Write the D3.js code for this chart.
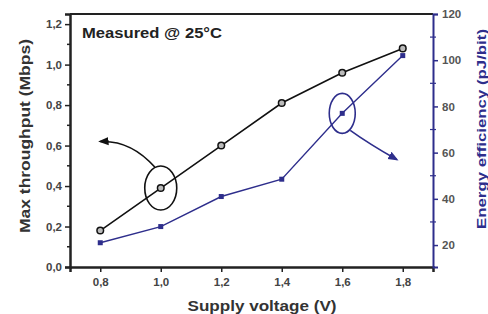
<!DOCTYPE html>
<html>
<head>
<meta charset="utf-8">
<script src="https://cdn.jsdelivr.net/npm/d3@7"></script>
<style>
  body { margin: 0; background: #fff; }
  svg text { font-family: "Liberation Sans", Arial, sans-serif; font-weight: bold; }
</style>
</head>
<body>
<svg id="chart" width="488" height="314"></svg>
<script>
const voltage = [0.8, 1.0, 1.2, 1.4, 1.6, 1.8];
const throughput = [0.18, 0.39, 0.6, 0.81, 0.96, 1.08];
const efficiency = [21, 28, 41, 48.5, 77, 102];
const xTicks = [0.8, 1.0, 1.2, 1.4, 1.6, 1.8];
const leftTicks = [0, 0.2, 0.4, 0.6, 0.8, 1.0, 1.2];
const rightTicks = [20, 40, 60, 80, 100, 120];

const blue = "#2e2e8c";
const m = { left: 70, right: 433, top: 14, bottom: 267 };
const svg = d3.select("#chart");

const x = d3.scaleLinear().domain([0.7, 1.9]).range([m.left, m.right]);
const yL = d3.scaleLinear().domain([0, 1.25]).range([m.bottom, m.top]);
const yR = d3.scaleLinear().domain([10.5, 120]).range([m.bottom, m.top]);
const fmt = d => d3.format(".1f")(d).replace(".", ",");

// frame top
svg.append("line")
  .attr("x1", m.left).attr("x2", m.right)
  .attr("y1", m.top).attr("y2", m.top)
  .attr("stroke", "#222").attr("stroke-width", 2);

// minor ticks
const minorL = d3.range(0.1, 1.25, 0.2);
const minorR = d3.range(30, 120, 20);

const gx = svg.append("g").attr("transform", `translate(0,${m.bottom})`)
  .call(d3.axisBottom(x).tickValues(xTicks).tickFormat(fmt).tickSize(5).tickPadding(6));
gx.select(".domain").attr("stroke", "#222").attr("stroke-width", 2.5);

const gl = svg.append("g").attr("transform", `translate(${m.left},0)`)
  .call(d3.axisLeft(yL).tickValues(leftTicks).tickFormat(fmt).tickSize(5).tickPadding(3));
gl.select(".domain").attr("stroke", "#222").attr("stroke-width", 2.5);
gl.selectAll(".minor").data(minorL).join("line").attr("class", "minor")
  .attr("x1", -3).attr("x2", 0).attr("y1", d => yL(d)).attr("y2", d => yL(d))
  .attr("stroke", "#222").attr("stroke-width", 1.5);

const gr = svg.append("g").attr("transform", `translate(${m.right},0)`)
  .call(d3.axisRight(yR).tickValues(rightTicks).tickSize(5).tickPadding(4));
gr.select(".domain").attr("stroke", blue).attr("stroke-width", 2);
gr.selectAll(".tick line").attr("stroke", blue).attr("stroke-width", 1.5);
gr.selectAll(".minor").data(minorR).join("line").attr("class", "minor")
  .attr("x1", -3).attr("x2", 3).attr("y1", d => yR(d)).attr("y2", d => yR(d))
  .attr("stroke", blue).attr("stroke-width", 1.2);

[gx, gl].forEach(g => g.selectAll(".tick line").attr("stroke", "#222").attr("stroke-width", 1.5));
[gx, gl, gr].forEach(g => g.selectAll(".tick text").attr("font-size", 11.5).attr("fill", "#444"));
gr.selectAll(".tick text").attr("fill", "#555");

// series
const black = voltage.map((v, i) => [v, throughput[i]]);
const blues = voltage.map((v, i) => [v, efficiency[i]]);

svg.append("path").datum(black)
  .attr("fill", "none").attr("stroke", "#111").attr("stroke-width", 1.6)
  .attr("d", d3.line().x(d => x(d[0])).y(d => yL(d[1])));
svg.append("path").datum(blues)
  .attr("fill", "none").attr("stroke", blue).attr("stroke-width", 1.4)
  .attr("d", d3.line().x(d => x(d[0])).y(d => yR(d[1])));

svg.selectAll(".sq").data(blues).join("rect").attr("class", "sq")
  .attr("x", d => x(d[0]) - 2.5).attr("y", d => yR(d[1]) - 2.5)
  .attr("width", 5).attr("height", 5).attr("fill", blue);
svg.selectAll(".dot").data(black).join("circle").attr("class", "dot")
  .attr("cx", d => x(d[0])).attr("cy", d => yL(d[1])).attr("r", 3.3)
  .attr("fill", "#bbb").attr("stroke", "#111").attr("stroke-width", 1.5);

// annotations
const defs = svg.append("defs");
[["ah-k", "#111"], ["ah-b", blue]].forEach(([id, c]) => {
  defs.append("marker").attr("id", id).attr("viewBox", "0 0 10 10")
    .attr("refX", 8).attr("refY", 5).attr("markerWidth", 6.5).attr("markerHeight", 6.5)
    .attr("orient", "auto")
    .append("path").attr("d", "M0,1L10,5L0,9Z").attr("fill", c);
});

const cK = [x(1.0), yL(0.39)];
svg.append("ellipse").attr("cx", cK[0]).attr("cy", cK[1]).attr("rx", 16).attr("ry", 22)
  .attr("fill", "none").attr("stroke", "#111").attr("stroke-width", 1.6);
svg.append("path")
  .attr("d", `M${cK[0] - 6},${cK[1] - 21} Q${cK[0] - 30},${cK[1] - 48} ${x(0.8)},${yL(0.62)}`)
  .attr("fill", "none").attr("stroke", "#111").attr("stroke-width", 1.6)
  .attr("marker-end", "url(#ah-k)");

const cB = [x(1.6), yR(77)];
svg.append("ellipse").attr("cx", cB[0]).attr("cy", cB[1]).attr("rx", 13).attr("ry", 20)
  .attr("fill", "none").attr("stroke", blue).attr("stroke-width", 1.6);
svg.append("path")
  .attr("d", `M${cB[0] + 8},${cB[1] + 17} Q${cB[0] + 26},${cB[1] + 30} ${x(1.78)},${yR(57)}`)
  .attr("fill", "none").attr("stroke", blue).attr("stroke-width", 1.6)
  .attr("marker-end", "url(#ah-b)");

// labels
svg.append("text").attr("x", 82).attr("y", 38).attr("font-size", 14.5).attr("fill", "#222")
  .attr("textLength", 140).attr("lengthAdjust", "spacingAndGlyphs")
  .text("Measured @ 25°C");
svg.append("text").attr("x", 262).attr("y", 311)
  .attr("text-anchor", "middle").attr("font-size", 14.5).attr("fill", "#333")
  .attr("textLength", 149).attr("lengthAdjust", "spacingAndGlyphs")
  .text("Supply voltage (V)");
svg.append("text").attr("transform", "translate(30,136) rotate(-90)")
  .attr("text-anchor", "middle").attr("font-size", 14.5).attr("fill", "#333")
  .attr("textLength", 194).attr("lengthAdjust", "spacingAndGlyphs")
  .text("Max throughput (Mbps)");
svg.append("text").attr("transform", "translate(486,129) rotate(-90)")
  .attr("text-anchor", "middle").attr("font-size", 12).attr("fill", blue)
  .attr("textLength", 200).attr("lengthAdjust", "spacingAndGlyphs")
  .text("Energy efficiency (pJ/bit)");
</script>
</body>
</html>
